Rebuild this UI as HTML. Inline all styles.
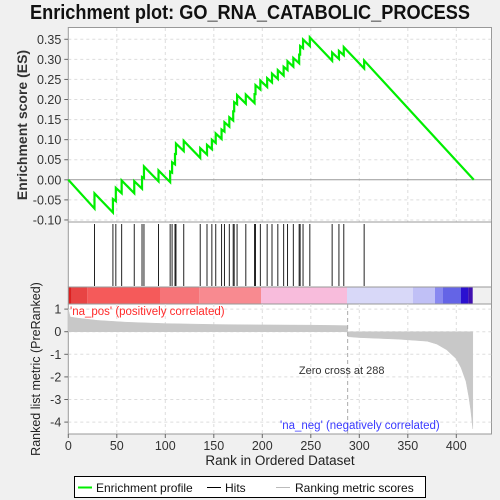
<!DOCTYPE html>
<html><head><meta charset="utf-8"><style>
body{margin:0;background:#f0f0f0;}
svg{display:block;font-family:"Liberation Sans",sans-serif;}
</style></head><body>
<svg id="chart" width="500" height="500" viewBox="0 0 500 500">
<rect width="500" height="500" fill="#f0f0f0"/>
<text x="250" y="19" text-anchor="middle" font-size="20" font-weight="bold" textLength="440" lengthAdjust="spacingAndGlyphs" fill="#111">Enrichment plot: GO_RNA_CATABOLIC_PROCESS</text>
<g id="topPanel"></g>
<g id="hitsPanel"></g>
<g id="cbarPanel"></g>
<g id="bottomPanel"></g>
<text transform="translate(27,125) rotate(-90)" text-anchor="middle" font-size="14" font-weight="bold" fill="#333">Enrichment score (ES)</text>
<text transform="translate(40,369) rotate(-90)" text-anchor="middle" font-size="12.5" fill="#222">Ranked list metric (PreRanked)</text>
<text x="280" y="465" text-anchor="middle" font-size="13.5" fill="#222">Rank in Ordered Dataset</text>
<g>
<rect x="74.5" y="476.5" width="351" height="21" fill="#fff" stroke="#000"/>
<line x1="78" y1="487.5" x2="92" y2="487.5" stroke="#00ee00" stroke-width="2"/>
<text x="96" y="492" font-size="12" fill="#111">Enrichment profile</text>
<line x1="207" y1="487.5" x2="221" y2="487.5" stroke="#000"/>
<text x="225" y="492" font-size="12" fill="#111">Hits</text>
<line x1="276" y1="487.5" x2="290" y2="487.5" stroke="#bbb"/>
<text x="295" y="492" font-size="12" fill="#111">Ranking metric scores</text>
</g>
</svg>
<script>
const N = 418;
const hitRanks = [27,46,49,55,68,76,78,93,105,107,110,111,119,136,143,148,152,158,161,166,170,171,174,183,192,193,198,205,210,216,222,226,232,238,239,242,249,272,279,284,305];
const metricRanks = [0,2,10,30,60,100,150,200,250,287,288,300,340,370,380,390,400,405,410,413,415,417];
const metricValues = [1.0,0.65,0.6,0.5,0.42,0.36,0.32,0.3,0.29,0.27,-0.22,-0.26,-0.33,-0.42,-0.55,-0.8,-1.2,-1.6,-2.2,-2.9,-3.5,-4.3];
const esTicks = [0.35,0.30,0.25,0.20,0.15,0.10,0.05,0.00,-0.05,-0.10];
const esTickLabels = ["0.35","0.30","0.25","0.20","0.15","0.10","0.05","0.00","-0.05","-0.10"];
const metricTicks = [1,0,-1,-2,-3,-4];
const xTicks = [0,50,100,150,200,250,300,350,400];
const zeroCross = 288;

const NS = "http://www.w3.org/2000/svg";
function mk(parent, tag, attrs){const e=document.createElementNS(NS,tag);for(const k in attrs)e.setAttribute(k,attrs[k]);parent.appendChild(e);return e;}
const PL=68.3, PR=491.5;
const xs = r => PL + r*0.97;
const yES = v => 179.8 - v*401.5;
const yM = v => 331.7 - v*22.6;
function metricAt(r){
 for(let i=1;i<metricRanks.length;i++){
  if(r<=metricRanks[i]){const a=metricRanks[i-1],b=metricRanks[i];const t=(r-a)/(b-a||1);return metricValues[i-1]+(metricValues[i]-metricValues[i-1])*t;}
 }
 return metricValues[metricValues.length-1];
}

// top panel
const topG=document.getElementById('topPanel');
const tf=mk(topG,'rect',{x:PL,y:27.5,width:PR-PL,height:194.5,fill:'#fff',stroke:'#999'});


xTicks.forEach(t=>{ if(t>0){const g=mk(topG,'line',{x1:xs(t),x2:xs(t),y1:28,y2:222,stroke:'#ddd','stroke-dasharray':'3,3'});

}});
esTicks.forEach((t,i)=>{
 const g=mk(topG,'line',{x1:PL,x2:PR,y1:yES(t),y2:yES(t),stroke:t===0?'#999':'#ddd','stroke-dasharray':t===0?'none':'3,3'});
 
 
 mk(topG,'line',{x1:PL-4,x2:PL,y1:yES(t),y2:yES(t),stroke:'#666'});
 const tx=mk(topG,'text',{x:PL-7,y:yES(t)+4.5,'text-anchor':'end','font-size':'12.5',fill:'#333'});
 tx.textContent=esTickLabels[i];
 
 
});
// ES curve (weighted by metric)
const hitSet=new Set(hitRanks);
let wsum=0; hitRanks.forEach(r=>{wsum+=Math.abs(metricAt(r));});
const downStep=1/(N-hitRanks.length);
let es=0, pts=[[xs(0),yES(0)]];
for(let r=0;r<N;r++){
 if(hitSet.has(r)){pts.push([xs(r),yES(es)]);es+=Math.abs(metricAt(r))/wsum;pts.push([xs(r),yES(es)]);}
 else es-=downStep;
}
pts.push([xs(N),yES(es)]);
const curve=mk(topG,'polyline',{points:pts.map(p=>p.join(',')).join(' '),fill:'none',stroke:'#00ee00','stroke-width':2.2});



// hits
const hitsG=document.getElementById('hitsPanel');
const hf=mk(hitsG,'rect',{x:PL,y:222,width:PR-PL,height:65,fill:'#fff',stroke:'#999'});


hitRanks.forEach(r=>{const l=mk(hitsG,'line',{x1:xs(r),x2:xs(r),y1:224,y2:286,stroke:'#222','stroke-width':1});

});

// color bar
const cbG=document.getElementById('cbarPanel');
const segs=[[68.3,71.7,'#dd2020'],[71.7,87.3,'#e84444'],[87.3,160,'#f55a5a'],[160,199.3,'#f67478'],[199.3,261,'#f88a90'],[261,347,'#f8bcdc'],[347,413,'#d8d8f8'],[413,435,'#c0c0f6'],[435,442.7,'#8888f0'],[442.7,461,'#6464e6'],[461,468.3,'#2a10d0'],[468.3,472.7,'#4010b0']];
segs.forEach(s=>{const r=mk(cbG,'rect',{x:s[0],y:287,width:s[1]-s[0],height:17,fill:s[2]});

});
mk(cbG,'rect',{x:PL,y:287,width:PR-PL,height:17,fill:'none',stroke:'#999'});

// bottom
const btG=document.getElementById('bottomPanel');
const bf=mk(btG,'rect',{x:PL,y:304,width:PR-PL,height:130,fill:'#fff',stroke:'#999'});


xTicks.forEach(t=>{
 if(t>0){const g=mk(btG,'line',{x1:xs(t),x2:xs(t),y1:304,y2:434,stroke:'#ddd','stroke-dasharray':'3,3'});
 
 }
 mk(btG,'line',{x1:xs(t),x2:xs(t),y1:434,y2:438,stroke:'#666'});
 const tx=mk(btG,'text',{x:xs(t),y:450,'text-anchor':'middle','font-size':'12.5',fill:'#333'});
 tx.textContent=t;
 
 
});
metricTicks.forEach(t=>{
 const g=mk(btG,'line',{x1:PL,x2:PR,y1:yM(t),y2:yM(t),stroke:'#ddd','stroke-dasharray':'3,3'});
 
 
 mk(btG,'line',{x1:PL-4,x2:PL,y1:yM(t),y2:yM(t),stroke:'#666'});
 const tx=mk(btG,'text',{x:PL-7,y:yM(t)+4.5,'text-anchor':'end','font-size':'12.5',fill:'#333'});
 tx.textContent=t;
 
 
});
let mp=[[xs(0),yM(0)]];
metricRanks.forEach((r,i)=>{
 if(i>0 && metricValues[i]<0 && metricValues[i-1]>=0){mp.push([xs(r),yM(metricValues[i-1])]);mp.push([xs(r),yM(0)]);}
 mp.push([xs(r),yM(metricValues[i])]);
});
mp.push([xs(metricRanks[metricRanks.length-1]),yM(0)]);
const metricArea=mk(btG,'polygon',{points:mp.map(p=>p.join(',')).join(' '),fill:'#c8c8c8',stroke:'#c8c8c8','stroke-width':0.5});


const zc=mk(btG,'line',{x1:xs(zeroCross),x2:xs(zeroCross),y1:304,y2:434,stroke:'#aaa','stroke-dasharray':'4,3'});


const zt=mk(btG,'text',{x:xs(zeroCross)-6,y:374,'text-anchor':'middle','font-size':'11',fill:'#333'});
zt.textContent='Zero cross at '+zeroCross;


const posL=mk(btG,'text',{x:70,y:315,'font-size':'11.5',fill:'#ff2a2a'});
posL.textContent="'na_pos' (positively correlated)";


const negL=mk(btG,'text',{x:280,y:429,'font-size':'11.5',fill:'#3a3aff'});
negL.textContent="'na_neg' (negatively correlated)";


</script>
</body></html>
